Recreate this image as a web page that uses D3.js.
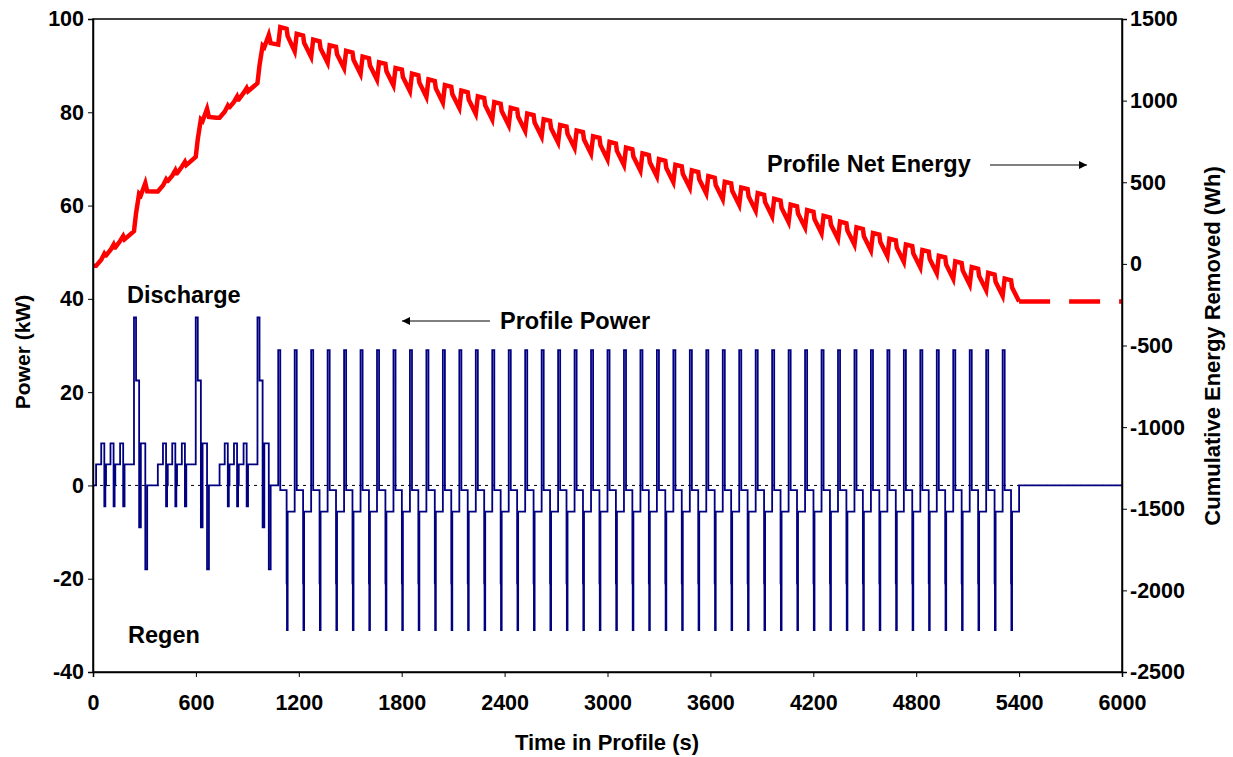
<!DOCTYPE html>
<html>
<head>
<meta charset="utf-8">
<script src="https://cdn.jsdelivr.net/npm/d3@7"></script>
<style>
  body { margin: 0; background: #fff; }
  text { font-family: "Liberation Sans", Arial, sans-serif; font-weight: bold; fill: #000; }
</style>
</head>
<body>
<svg id="chart" width="1233" height="757"></svg>
<script>
// axis ticks
var timeTicks = [0, 600, 1200, 1800, 2400, 3000, 3600, 4200, 4800, 5400, 6000];
var powerTicks = [-40, -20, 0, 20, 40, 60, 80, 100];
var energyTicks = [-2500, -2000, -1500, -1000, -500, 0, 500, 1000, 1500];

// profile power (kW): three 360 s start blocks, [offset s, kW]
var blockStart = [0, 360, 720];
var blockSteps = [[0, 0], [18, 4.5], [48, 9], [66, -4.5], [72, 0], [76, 4.5], [102, 9], [120, -4.5],
  [126, 0], [130, 4.5], [158, 9], [176, -4.5], [184, 4.5], [239, 36], [251, 22.5], [269, -9],
  [279, 9], [305, -18], [316, 0]];

// then the repeated 96 s cycles
var cycleStart = [1080, 1176, 1272, 1368, 1464, 1560, 1656, 1752, 1848, 1944, 2040, 2136, 2232, 2328,
  2424, 2520, 2616, 2712, 2808, 2904, 3000, 3096, 3192, 3288, 3384, 3480, 3576, 3672, 3768, 3864,
  3960, 4056, 4152, 4248, 4344, 4440, 4536, 4632, 4728, 4824, 4920, 5016, 5112, 5208, 5304];
var cycleSteps = [[0, 29], [12, -1], [49, -21], [51, -31], [55, -5.6]];
var restPower = [[5400, 0], [6000, 0]];

// net energy (Wh)
var blockEnergyBase = [-12, 443, 895];
var blockEnergy = [[0, 0], [18, 0], [48, 37], [66, 74], [72, 64], [76, 64], [102, 97], [120, 130],
  [126, 112], [130, 112], [158, 152], [176, 182], [184, 162], [239, 212], [251, 322], [269, 442],
  [279, 432], [305, 507], [316, 457]];
var cyclePeak = [1450, 1409, 1374, 1339, 1305, 1270, 1235, 1200, 1165, 1130, 1095, 1061, 1026, 991,
  956, 921, 886, 851, 817, 782, 747, 712, 677, 642, 607, 573, 538, 503, 468, 433, 398, 363, 329,
  294, 259, 224, 189, 154, 119, 85, 50, 15, -20, -55, -90];
var cycleEnergy = [[0, -107], [12, 0], [49, -10], [55, -55]];
var restEnergy = [[5400, -230], [6000, -230]];

var svg = d3.select('#chart');
var plotL = 93, plotR = 1122, plotT = 19, plotB = 672;

var x = d3.scaleLinear().domain([0, 6000]).range([plotL, plotR]);
var yL = d3.scaleLinear().domain([-40, 100]).range([plotB, plotT]);
var yR = d3.scaleLinear().domain([-2500, 1500]).range([plotB, plotT]);

// build series
var power = [];
blockStart.forEach(s => blockSteps.forEach(d => power.push([s + d[0], d[1]])));
cycleStart.forEach(s => cycleSteps.forEach(d => power.push([s + d[0], d[1]])));
restPower.forEach(d => power.push(d));

var energy = [];
blockStart.forEach((s, i) => blockEnergy.forEach(d => energy.push([s + d[0], blockEnergyBase[i] + d[1]])));
cycleStart.forEach((s, i) => cycleEnergy.forEach(d => energy.push([s + d[0], cyclePeak[i] + d[1]])));
energy.push(restEnergy[0]);

// zero line
svg.append('line')
  .attr('x1', x(0)).attr('x2', x(6000))
  .attr('y1', yL(0)).attr('y2', yL(0))
  .attr('stroke', '#000').attr('stroke-width', 1)
  .attr('stroke-dasharray', '3,4');

var powerLine = d3.line()
  .x(d => x(d[0]))
  .y(d => yL(d[1]))
  .curve(d3.curveStepAfter);

svg.append('path')
  .datum(power)
  .attr('d', powerLine)
  .attr('fill', 'none')
  .attr('stroke', '#000080')
  .attr('stroke-width', 1.8);

var energyLine = d3.line()
  .x(d => x(d[0]))
  .y(d => yR(d[1]));

svg.append('path')
  .datum(energy)
  .attr('d', energyLine)
  .attr('fill', 'none')
  .attr('stroke', '#ff0000')
  .attr('stroke-width', 4.5)
  .attr('stroke-linejoin', 'miter');

svg.append('path')
  .datum(restEnergy)
  .attr('d', energyLine)
  .attr('fill', 'none')
  .attr('stroke', '#ff0000')
  .attr('stroke-width', 4.5)
  .attr('stroke-dasharray', '31,19');

// frame
svg.append('rect')
  .attr('x', plotL).attr('y', plotT)
  .attr('width', plotR - plotL).attr('height', plotB - plotT)
  .attr('fill', 'none').attr('stroke', '#000').attr('stroke-width', 1.5);

function styleAxis(g) {
  g.select('.domain').attr('stroke', '#000').attr('stroke-width', 1.5);
  g.selectAll('.tick line').attr('stroke', '#000').attr('stroke-width', 1);
  g.selectAll('.tick text')
    .style('font-family', '"Liberation Sans", Arial, sans-serif')
    .style('font-weight', 'bold')
    .style('font-size', '21.5px')
    .attr('fill', '#000');
}

var plain = d => String(d);

svg.append('g')
  .attr('transform', 'translate(0,' + plotB + ')')
  .call(d3.axisBottom(x).tickValues(timeTicks).tickSize(5).tickPadding(18).tickFormat(plain))
  .call(styleAxis);

svg.append('g')
  .attr('transform', 'translate(' + plotL + ',0)')
  .call(d3.axisLeft(yL).tickValues(powerTicks).tickSize(5).tickPadding(4).tickFormat(plain))
  .call(styleAxis);

svg.append('g')
  .attr('transform', 'translate(' + plotR + ',0)')
  .call(d3.axisRight(yR).tickValues(energyTicks).tickSize(5).tickPadding(3).tickFormat(plain))
  .call(styleAxis);

// titles
svg.append('text')
  .attr('x', 607).attr('y', 750)
  .attr('text-anchor', 'middle')
  .style('font-size', '22px')
  .text('Time in Profile (s)');

svg.append('text')
  .attr('transform', 'translate(30,352) rotate(-90)')
  .attr('text-anchor', 'middle')
  .style('font-size', '21px')
  .text('Power (kW)');

svg.append('text')
  .attr('transform', 'translate(1220,346) rotate(-90)')
  .attr('text-anchor', 'middle')
  .style('font-size', '22px')
  .text('Cumulative Energy Removed (Wh)');

// annotations
function label(txt, lx, ly) {
  svg.append('text').attr('x', lx).attr('y', ly).style('font-size', '23.5px').text(txt);
}
label('Discharge', 127, 303);
label('Regen', 128, 643);
label('Profile Power', 500, 329);
label('Profile Net Energy', 767, 172);

var defs = svg.append('defs');
defs.append('marker')
  .attr('id', 'head')
  .attr('viewBox', '0 0 10 10')
  .attr('refX', 10).attr('refY', 5)
  .attr('markerWidth', 11).attr('markerHeight', 8)
  .attr('markerUnits', 'userSpaceOnUse')
  .attr('orient', 'auto')
  .append('path')
  .attr('d', 'M0,0L10,5L0,10Z')
  .attr('fill', '#000');

svg.append('line')
  .attr('x1', 490).attr('y1', 321).attr('x2', 402).attr('y2', 321)
  .attr('stroke', '#000').attr('stroke-width', 1)
  .attr('marker-end', 'url(#head)');

svg.append('line')
  .attr('x1', 990).attr('y1', 165).attr('x2', 1087).attr('y2', 165)
  .attr('stroke', '#000').attr('stroke-width', 1)
  .attr('marker-end', 'url(#head)');
</script>
</body>
</html>
